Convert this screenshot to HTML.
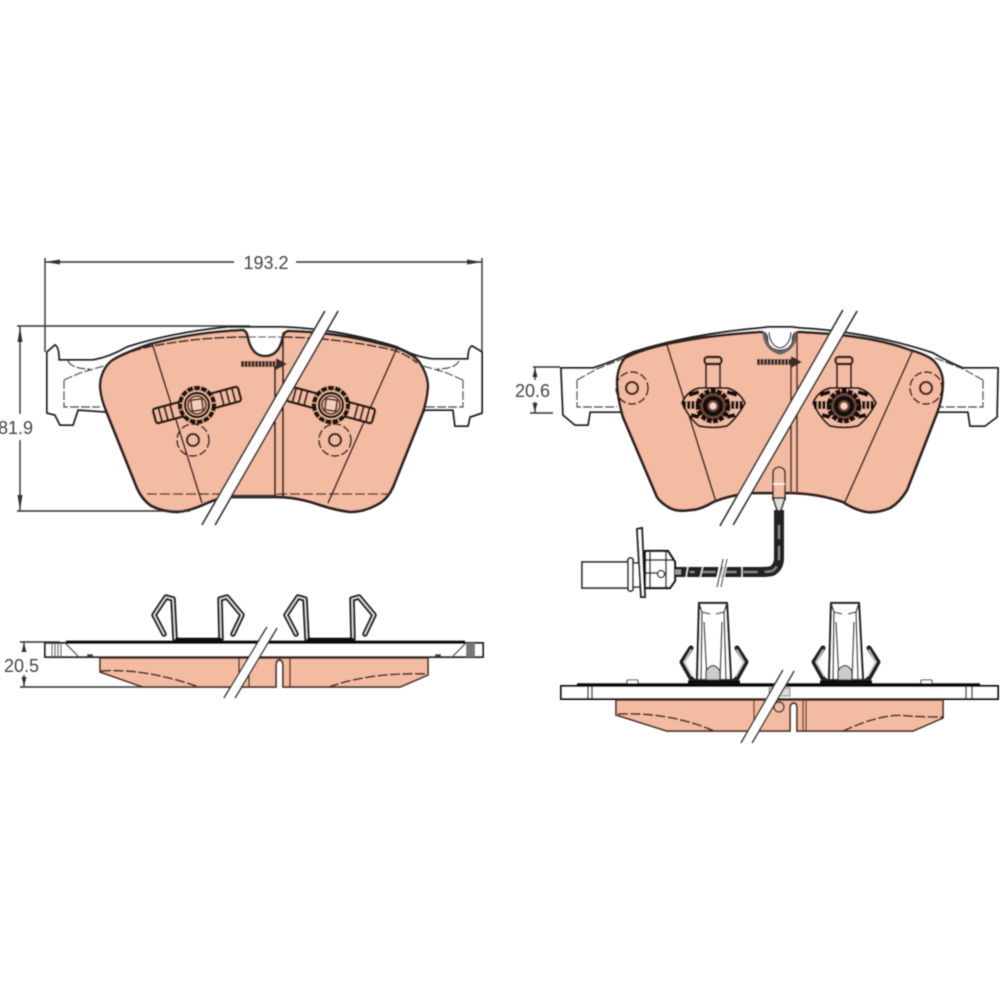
<!DOCTYPE html>
<html>
<head>
<meta charset="utf-8">
<style>
html,body{margin:0;padding:0;background:#fff}
svg{display:block}
text{font-family:"Liberation Sans",sans-serif;font-size:18px;fill:#444}
</style>
</head>
<body>
<svg width="1000" height="1000" viewBox="0 0 1000 1000" xmlns="http://www.w3.org/2000/svg">
<defs>
<filter id="b" x="-5%" y="-5%" width="110%" height="110%"><feGaussianBlur stdDeviation="0.55"/></filter>
<g id="hubL">
  <g transform="rotate(-15)" fill="none" stroke="#2b1d18">
    <rect x="-44" y="-7.500" width="88" height="15" rx="2.500" stroke-width="2.600" fill="#f4bba3"/>
    <path d="M-38-7v14M-32-7v14M-26-7v14M26-7v14M32-7v14M38-7v14" stroke-width="2"/>
  </g>
  <circle r="17" fill="#f4bba3" stroke="#1d1310" stroke-width="4.500" stroke-dasharray="6 1"/>
  <circle r="12" fill="none" stroke="#1d1310" stroke-width="2.400"/>
  <circle r="9" fill="none" stroke="#2b1d18" stroke-width="1.600"/>
  <rect x="-5.500" y="-5.500" width="11" height="11" rx="1.500" fill="#f8cdb8" stroke="#2b1d18" stroke-width="1.600" transform="rotate(-8)"/>
</g>
<g id="hubR">
  <rect x="-8.500" y="-49" width="17" height="7" rx="3" fill="#f4bba3" stroke="#2b1d18" stroke-width="2.400"/>
  <path d="M-7-42V-18M7-42V-18" stroke="#2b1d18" stroke-width="2" fill="none"/>
  <path d="M-31-3Q-26-15-14-18H14Q26-15 32-3Q24 12 14 20Q0 23-14 20Q-24 12-31-3Z" fill="#f4bba3" stroke="#1d1310" stroke-width="2" stroke-linejoin="round"/>
  <circle r="15" fill="#6b4638" stroke="#120c0a" stroke-width="5" stroke-dasharray="5 1.200"/>
  <circle r="8" fill="none" stroke="#120c0a" stroke-width="4.500"/>
  <path d="M-30-1H-14M14-1H30" stroke="#120c0a" stroke-width="8" stroke-dasharray="3 1.200"/>
  <path d="M-24-11L-14-14M24-11L14-14M-22 9L-14 11M22 9L14 11" stroke="#120c0a" stroke-width="4"/>
  <circle r="3.500" fill="#f8d4c0"/>
</g>
<g id="clipA" fill="none" stroke-linejoin="round" stroke-linecap="round">
  <path d="M175 639L173 599L166 597L154 615L164 634M221 639L220 599L227 597L242 615L233 634M175 639L179 641H217L221 639" stroke="#222" stroke-width="5.500"/>
  <path d="M175 639L173 599L166 597L154 615L164 634M221 639L220 599L227 597L242 615L233 634" stroke="#e8e8e8" stroke-width="1.400"/>
  <path d="M177 640H220" stroke="#111" stroke-width="4.500"/>
</g>
<g id="clipB" fill="none" stroke-linejoin="round">
  <path d="M699 603H727L731 680H697Z" fill="#fff" stroke="#222" stroke-width="2.200"/>
  <path d="M699 603L702 612L701 680M727 603L724 612L726 680M704 622L707 680M722 622L720 680M702 612L710 614M724 612L716 614" stroke="#333" stroke-width="1.400"/>
  <path d="M706 671Q713 660 720 671V680H706Z" fill="#ccc" stroke="#333" stroke-width="1.300"/>
  <path d="M691 648L682 662L692 680L698 683M737 648L746 662L736 680L730 683" stroke="#222" stroke-width="5" stroke-linecap="round"/>
  <path d="M691 650L684 662L692 676M737 650L744 662L736 676" stroke="#ddd" stroke-width="1.200" stroke-linecap="round"/>
  <path d="M688 683H740" stroke="#111" stroke-width="5"/>
</g>
</defs>

<rect width="1000" height="1000" fill="#fff"/>
<g filter="url(#b)">

<!-- ===== TOP LEFT PAD ===== -->
<path d="M47 352L55 345Q59 347 59 360H93Q110 357 127 347Q170 333 227 327H283Q340 329 397 347Q415 357 433 359H468Q468 348 472 346L482 352V413L470 417L468 426H455L453 410H425L423 412H107L78 410L73 425H60L55 415L47 413Z" fill="#fff" stroke="#222" stroke-width="2" stroke-linejoin="round"/>
<path d="M64 380V407H100M64 380L80 373L107 365M68 361Q72 369 90 369M463 380V407H425M463 380L447 373L420 365M459 361Q455 369 437 369" fill="none" stroke="#444" stroke-width="1.400" stroke-dasharray="9 2"/>
<path d="M100 387Q100 372 110 362Q118 355 150 344Q195 332 243 330Q247 331 248 338Q252 356 265 356Q278 356 282 340Q283 332 288 331Q340 332 397 348Q414 354 420 363Q428 375 428 387Q427 400 423 412L393 487Q388 498 380 503Q365 512 350 512Q335 510 320 505Q297 497 277 497H233Q220 497 207 503Q190 511 177 512Q160 511 150 505Q142 499 137 488L107 413Q101 400 100 387Z" fill="#f4bba3" stroke="#2e2320" stroke-width="2.800" stroke-linejoin="round"/>
<path d="M110 362Q130 350 153 346Q200 337 247 337M283 337Q340 338 393 350Q408 355 417 363" fill="none" stroke="#3a241c" stroke-width="1.700" stroke-dasharray="10 2"/>
<path d="M147 494H233M277 494H390" fill="none" stroke="#5a3a2c" stroke-width="1.600" stroke-dasharray="10 3"/>
<path d="M233 496H277" stroke="#333" stroke-width="2.500"/>
<path d="M152 343L202 503M397 348L328 503" fill="none" stroke="#3a2620" stroke-width="1.700"/>
<path d="M275 366V496M283 332V496" fill="none" stroke="#3a2620" stroke-width="2"/>
<path d="M248 337H282" stroke="#555" stroke-width="1.200" stroke-dasharray="8 2"/>
<path d="M241 364H277" stroke="#3b2a26" stroke-width="6" stroke-dasharray="3 .5"/>
<path d="M276 358L287 364L276 370Z" fill="#3b2a26"/>
<g fill="none" stroke="#3a2620">
  <circle cx="193" cy="440" r="16" stroke-width="1.700" stroke-dasharray="8 2.500"/>
  <circle cx="193" cy="440" r="6" stroke-width="2.300"/>
  <circle cx="335" cy="440" r="16" stroke-width="1.700" stroke-dasharray="8 2.500"/>
  <circle cx="335" cy="440" r="6" stroke-width="2.300"/>
</g>
<use href="#hubL" transform="translate(197 405)"/>
<use href="#hubL" transform="translate(331 405) scale(-1 1)"/>
<path d="M325 311L202 525H215L338 311Z" fill="#fff"/>
<path d="M325 311L202 525M338 311L215 525" stroke="#333" stroke-width="1.800" fill="none"/>

<!-- ===== TOP RIGHT PAD ===== -->
<path d="M561 368H593Q612 362 633 352Q690 334 760 328L768 327H792L800 328Q870 332 933 353Q948 362 963 368H998L997 417L985 426H970L968 412H940L620 412H590L588 425H575L563 415Z" fill="#fff" stroke="#222" stroke-width="2" stroke-linejoin="round"/>
<path d="M577 380V407H617M577 380L597 369L625 358M983 380V407H940M983 380L963 369L935 358" fill="none" stroke="#444" stroke-width="1.400" stroke-dasharray="9 2"/>
<path d="M617 380Q618 366 625 358Q640 350 667 344Q710 335 760 332Q767 332 767 340Q768 350 780 351Q793 350 793 340Q793 332 800 332Q870 335 910 350Q925 354 933 360Q943 370 943 383Q943 398 937 413L907 490Q900 502 890 508Q878 513 867 512Q855 510 843 502Q820 494 793 493H750Q730 495 713 502Q700 510 690 510Q678 512 670 508Q661 503 657 497L623 417Q617 398 617 380Z" fill="#f4bba3" stroke="#2e2320" stroke-width="2.800" stroke-linejoin="round"/>
<path d="M764 332Q765 349 780 353Q795 349 796 332" fill="none" stroke="#666" stroke-width="3.500"/>
<path d="M769 332Q770 346 780 348Q790 346 791 332" fill="#fff" stroke="#333" stroke-width="1.400"/>
<path d="M667 345L716 502M912 352L845 502" fill="none" stroke="#3a2620" stroke-width="1.700"/>
<path d="M791 365V493M797 332V493" fill="none" stroke="#6a4334" stroke-width="1.900"/>
<path d="M757 362H793" stroke="#3b2a26" stroke-width="6" stroke-dasharray="3 .5"/>
<path d="M791 356L802 362L791 368Z" fill="#3b2a26"/>
<g fill="none" stroke="#3a2620">
  <circle cx="632" cy="388" r="16" stroke-width="1.700" stroke-dasharray="8 2.500"/>
  <circle cx="632" cy="388" r="6" stroke-width="2.300"/>
  <circle cx="926" cy="388" r="16" stroke-width="1.700" stroke-dasharray="8 2.500"/>
  <circle cx="926" cy="388" r="6" stroke-width="2.300"/>
</g>
<use href="#hubR" transform="translate(713 406)"/>
<use href="#hubR" transform="translate(844 406)"/>
<path d="M843 310L720 526H733L857 311Z" fill="#fff"/>
<path d="M843 310L720 526M857 311L733 525" stroke="#333" stroke-width="1.800" fill="none"/>

<!-- sensor -->
<path d="M773 500V473Q773 468 779 467Q785 468 785 473V500" fill="#f4bba3" stroke="#333" stroke-width="1.600"/>
<path d="M773 484H785" stroke="#fff" stroke-width="1.500"/>
<path d="M773 498H785L781 510V512H777V510Z" fill="#ddd" stroke="#222" stroke-width="1.500"/>
<path d="M779 510V558Q779 567 772 571Q768 572 760 572H675" fill="none" stroke="#222" stroke-width="10"/>
<path d="M779 525V558Q779 567 772 571Q768 572 760 572H690" fill="none" stroke="#888" stroke-width="2" stroke-dasharray="14 7"/>
<path d="M724 566L720 578M703 566L700 578M742 566V578M688 566L686 578" stroke="#ddd" stroke-width="1.500"/>
<path d="M722 559L716 587M727 559L721 587" stroke="#fff" stroke-width="3"/>
<path d="M723 559L717 587M727 559L721 587" stroke="#333" stroke-width="1.200"/>
<rect x="582" y="562" width="46" height="26" fill="#fff" stroke="#333" stroke-width="1.800"/>
<rect x="628" y="558" width="5" height="33" rx="2" fill="#fff" stroke="#333" stroke-width="1.800"/>
<rect x="633" y="563" width="7" height="24" fill="#fff" stroke="#333" stroke-width="1.600"/>
<path d="M637 529L642 528L645 597H641Z" fill="#fff" stroke="#222" stroke-width="2"/>
<path d="M645 551H668L675 562V581L670 588H645Z" fill="#fff" stroke="#111" stroke-width="2.200" stroke-linejoin="round"/>
<path d="M650 551V588M645 573H661M666 552V588M645 560H674" stroke="#222" stroke-width="1.500" fill="none"/>
<circle cx="661" cy="574" r="3.500" fill="#fff" stroke="#222" stroke-width="1.500"/>
<path d="M675 572H681" stroke="#999" stroke-width="5"/>

<!-- ===== BOTTOM LEFT ===== -->
<use href="#clipA"/>
<use href="#clipA" transform="translate(132 0)"/>
<rect x="45" y="643" width="438" height="14" fill="#fff" stroke="#222" stroke-width="2"/>
<path d="M66 642H465" stroke="#111" stroke-width="2.800"/>
<path d="M52 643V657M55 643V657M58 643V657M61 643V657" stroke="#555" stroke-width="1.200"/>
<rect x="466" y="643" width="9" height="14" fill="#777"/>
<path d="M66 644L78 656M465 644L453 656" stroke="#444" stroke-width="1.400"/>
<path d="M87 655H93M435 655H441" stroke="#333" stroke-width="1.800"/>
<path d="M100 658V672L143 687H276V666Q276 660 279.500 660Q283 660 283 666V687H400L428 675V658Z" fill="#f4bba3" stroke="#4a3028" stroke-width="1.700"/>
<path d="M101 671Q145 668 199 687M329 687Q370 672 428 674" fill="none" stroke="#4a2a1f" stroke-width="1.700" stroke-dasharray="10 2.500"/>
<path d="M239 658V687M249 658V687M290 658V687" stroke="#5a3427" stroke-width="1.500"/>
<path d="M267 627L224 698H235L277 628Z" fill="#fff"/>
<path d="M267 627L224 698M277 628L235 698" stroke="#333" stroke-width="1.600" fill="none"/>

<!-- ===== BOTTOM RIGHT ===== -->
<use href="#clipB"/>
<use href="#clipB" transform="translate(132 0)"/>
<rect x="627" y="680" width="11" height="5" rx="1" fill="#fff" stroke="#333" stroke-width="1.100"/>
<rect x="921" y="680" width="11" height="5" rx="1" fill="#fff" stroke="#333" stroke-width="1.100"/>
<rect x="561" y="686" width="437" height="13" fill="#fff" stroke="#111" stroke-width="2"/>
<path d="M577 684.500H980" stroke="#111" stroke-width="2.400"/>
<path d="M588 686V699M592 686V699M966 686V699M972 686V699" stroke="#333" stroke-width="1.400"/>
<path d="M616 700V715L667 731H790V708Q790 703 794 703Q797 703 797 708V731H913L943 718V700Z" fill="#f4bba3" stroke="#4a3028" stroke-width="1.700"/>
<path d="M618 714Q670 712 714 731M843 731Q885 712 908 716Q925 717 943 717" fill="none" stroke="#4a2a1f" stroke-width="1.700" stroke-dasharray="10 2.500"/>
<path d="M754 700V731M803 700V731M806 700V731" stroke="#5a3427" stroke-width="1.300"/>
<circle cx="779" cy="707" r="5" fill="#f4bba3" stroke="#333" stroke-width="1.400"/>
<path d="M769 688H790V696H769Z" fill="#ddd" stroke="#777" stroke-width="1"/>
<path d="M783 670L741 743H752L794 671Z" fill="#fff"/>
<path d="M783 670L741 743M794 671L752 743" stroke="#333" stroke-width="1.600" fill="none"/>

<!-- ===== DIMENSIONS ===== -->
<g fill="none" stroke="#333" stroke-width="1.400">
  <path d="M45 258V352M482 258V352"/>
  <path d="M45 262H234M296 262H482"/>
  <path d="M17 326H250"/>
  <path d="M17 511H190"/>
  <path d="M20 326V414M20 440V511"/>
  <path d="M20 642H60M20 687H143"/>
  <path d="M24 642V652M24 675V687"/>
  <path d="M533 367H560M530 413H553"/>
  <path d="M535 367V380M535 402V413"/>
</g>
<g fill="#333">
  <path d="M45 262L60 259.500V264.500Z"/>
  <path d="M482 262L467 259.500V264.500Z"/>
  <path d="M20 327L17.500 342H22.500Z"/>
  <path d="M20 510L17.500 495H22.500Z"/>
  <path d="M24 643L21.500 652H26.500Z"/>
  <path d="M24 686L21.500 677H26.500Z"/>
  <path d="M535 368L532.500 377H537.500Z"/>
  <path d="M535 412L532.500 403H537.500Z"/>
</g>
<text x="266" y="269" text-anchor="middle">193.2</text>
<text x="-2" y="434">81.9</text>
<text x="4" y="672">20.5</text>
<text x="515" y="397">20.6</text>
</g>
</svg>
</body>
</html>
